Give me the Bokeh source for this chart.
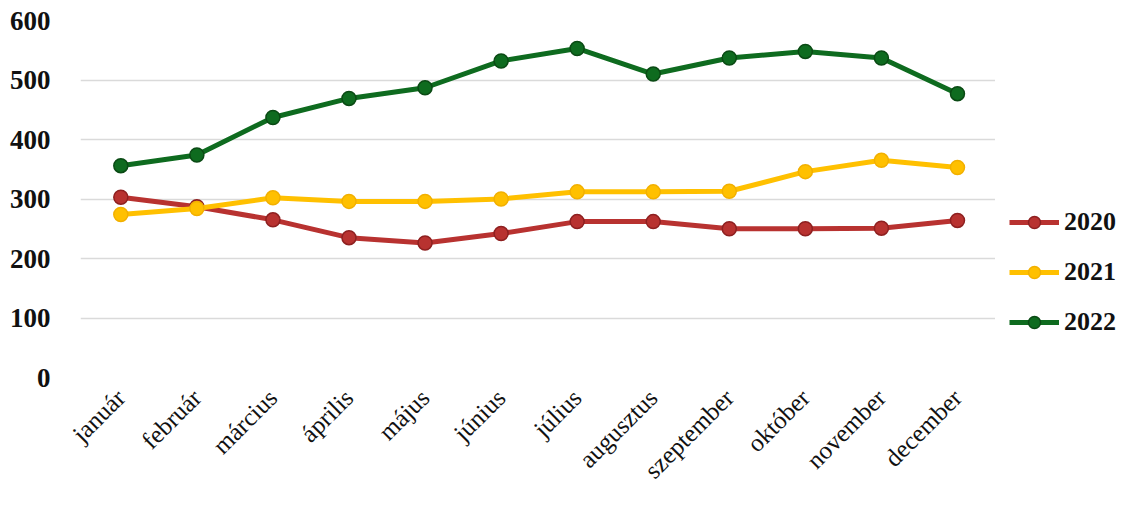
from bokeh.plotting import figure
from bokeh.models import FixedTicker, Legend, LegendItem, Range1d
from bokeh.layouts import row
from bokeh.embed import file_html
from bokeh.resources import INLINE
import math

months = ["január", "február", "március", "április", "május", "június",
          "július", "augusztus", "szeptember", "október", "november", "december"]
y2020 = [303, 287, 265, 235, 226, 242, 262, 262, 250, 250, 251, 264]
y2021 = [274, 284, 302, 296, 296, 300, 312, 312, 313, 346, 365, 353]
y2022 = [356, 374, 437, 469, 487, 532, 553, 510, 537, 548, 537, 477]
series = [("2020", y2020, "#B83230", "#8E2020"),
          ("2021", y2021, "#FFC000", "#F2B000"),
          ("2022", y2022, "#0E6B1F", "#0A4A14")]
yticks = [0, 100, 200, 300, 400, 500, 600]

FONT = "Liberation Serif"
xs = list(range(len(months)))

p = figure(width=995, height=496, output_backend="svg", toolbar_location=None,
           x_range=(-0.53, 11.5), y_range=(0, 600),
           min_border_top=20, min_border_bottom=119, min_border_left=80, min_border_right=0)
p.outline_line_color = None
p.background_fill_color = "white"

p.xaxis.ticker = FixedTicker(ticks=xs)
p.xaxis.major_label_overrides = {i: m for i, m in enumerate(months)}
p.xaxis.major_label_orientation = math.pi / 4
p.xaxis.major_label_text_font = FONT
p.xaxis.major_label_text_font_size = "25px"
p.xaxis.major_label_text_color = "#111111"
p.xaxis.major_label_standoff = 10
p.yaxis.ticker = FixedTicker(ticks=yticks)
p.yaxis.major_label_text_font = FONT
p.yaxis.major_label_text_font_size = "27px"
p.yaxis.major_label_text_font_style = "bold"
p.yaxis.major_label_text_color = "#111111"
p.yaxis.major_label_standoff = 24
for ax in (p.xaxis, p.yaxis):
    ax.axis_line_color = None
    ax.major_tick_line_color = None
    ax.minor_tick_line_color = None
p.xgrid.grid_line_color = None
p.ygrid.grid_line_color = "#DADADA"
p.ygrid.grid_line_width = 1.5

# legend-only panel: its ranges lie outside the data, so only the legend shows
q = figure(width=127, height=496, output_backend="svg", toolbar_location=None,
           x_range=Range1d(100, 101), y_range=Range1d(0, 600),
           min_border_top=0, min_border_bottom=0, min_border_left=0, min_border_right=0,
           x_axis_location=None, y_axis_location=None)
q.outline_line_color = None
q.xgrid.grid_line_color = None
q.ygrid.grid_line_color = None

items = []
for name, ys, col, edge in series:
    p.line(xs, ys, line_color=col, line_width=5)
    p.scatter(xs, ys, size=14, fill_color=col, line_color=edge, line_width=1.5)
    l1 = q.line(xs, ys, line_color=col, line_width=5)
    l2 = q.scatter(xs, ys, size=14, fill_color=col, line_color=edge, line_width=1.5)
    items.append(LegendItem(label=name, renderers=[l1, l2]))

legend = Legend(items=items, location=(14, 36), orientation="vertical",
                label_text_font=FONT, label_text_font_size="26px",
                label_text_font_style="bold", label_text_color="#111111",
                glyph_width=50, glyph_height=30, label_height=38, spacing=12,
                label_standoff=5, padding=0, margin=0,
                border_line_color=None, background_fill_alpha=0)
q.add_layout(legend)

layout = row(p, q)
open("out.html", "w").write(file_html(layout, INLINE))
